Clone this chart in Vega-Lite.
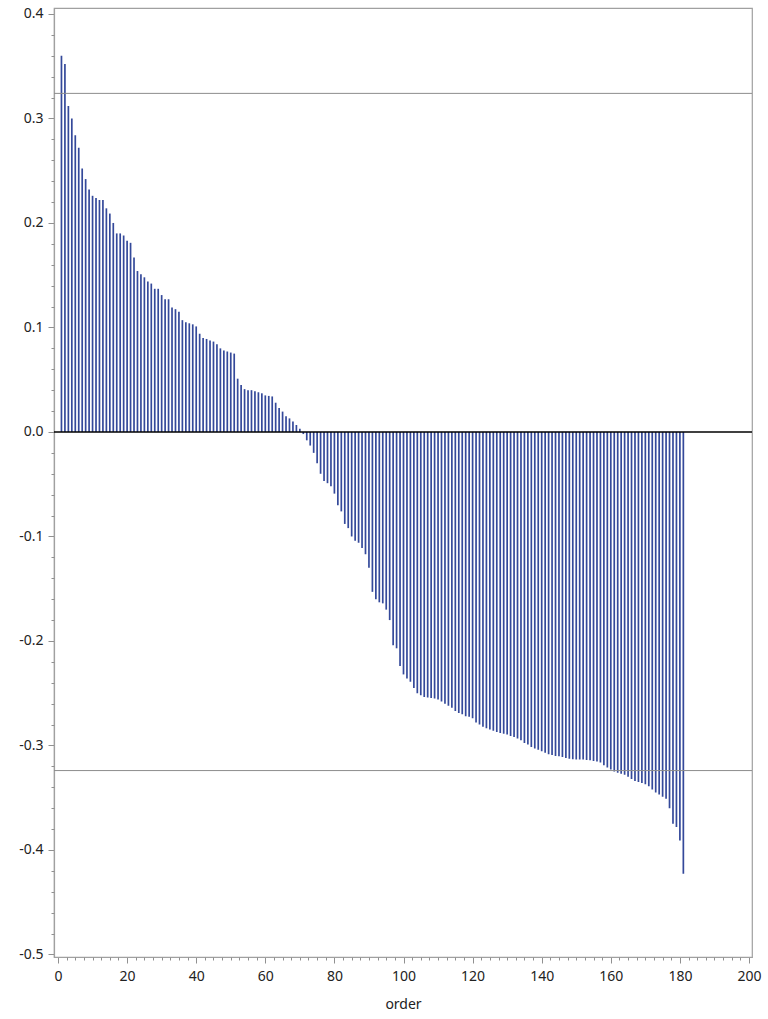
{
  "$schema": "https://vega.github.io/schema/vega-lite/v6.json",
  "autosize": {"type": "none"},
  "padding": {"left": 54, "top": 8, "right": 16, "bottom": 62},
  "width": 698,
  "height": 949,
  "background": "white",
  "config": {
    "view": {"stroke": "#a0a0a0", "strokeWidth": 1.2},
    "axis": {"labelFont": "Noto Sans", "titleFont": "Noto Sans", "labelColor": "#222222", "titleColor": "#222222", "domainColor": "#a0a0a0", "tickColor": "#909090", "grid": false}
  },
  "datasets": {
    "bars": [
      {"order":1,"value":0.360},{"order":2,"value":0.352},{"order":3,"value":0.312},{"order":4,"value":0.300},{"order":5,"value":0.284},
      {"order":6,"value":0.272},{"order":7,"value":0.252},{"order":8,"value":0.242},{"order":9,"value":0.232},{"order":10,"value":0.226},
      {"order":11,"value":0.224},{"order":12,"value":0.222},{"order":13,"value":0.222},{"order":14,"value":0.214},{"order":15,"value":0.209},
      {"order":16,"value":0.200},{"order":17,"value":0.190},{"order":18,"value":0.190},{"order":19,"value":0.188},{"order":20,"value":0.183},
      {"order":21,"value":0.181},{"order":22,"value":0.167},{"order":23,"value":0.154},{"order":24,"value":0.151},{"order":25,"value":0.148},
      {"order":26,"value":0.144},{"order":27,"value":0.142},{"order":28,"value":0.137},{"order":29,"value":0.137},{"order":30,"value":0.131},
      {"order":31,"value":0.127},{"order":32,"value":0.127},{"order":33,"value":0.119},{"order":34,"value":0.1175},{"order":35,"value":0.115},
      {"order":36,"value":0.107},{"order":37,"value":0.105},{"order":38,"value":0.104},{"order":39,"value":0.103},{"order":40,"value":0.101},
      {"order":41,"value":0.094},{"order":42,"value":0.090},{"order":43,"value":0.089},{"order":44,"value":0.0875},{"order":45,"value":0.0865},
      {"order":46,"value":0.084},{"order":47,"value":0.080},{"order":48,"value":0.078},{"order":49,"value":0.077},{"order":50,"value":0.076},
      {"order":51,"value":0.075},{"order":52,"value":0.051},{"order":53,"value":0.045},{"order":54,"value":0.041},{"order":55,"value":0.040},
      {"order":56,"value":0.040},{"order":57,"value":0.039},{"order":58,"value":0.038},{"order":59,"value":0.037},{"order":60,"value":0.035},
      {"order":61,"value":0.0345},{"order":62,"value":0.034},{"order":63,"value":0.028},{"order":64,"value":0.023},{"order":65,"value":0.0195},
      {"order":66,"value":0.015},{"order":67,"value":0.013},{"order":68,"value":0.010},{"order":69,"value":0.0067},{"order":70,"value":0.003},
      {"order":71,"value":-0.002},{"order":72,"value":-0.008},{"order":73,"value":-0.013},{"order":74,"value":-0.020},{"order":75,"value":-0.030},
      {"order":76,"value":-0.040},{"order":77,"value":-0.047},{"order":78,"value":-0.049},{"order":79,"value":-0.052},{"order":80,"value":-0.059},
      {"order":81,"value":-0.070},{"order":82,"value":-0.076},{"order":83,"value":-0.088},{"order":84,"value":-0.092},{"order":85,"value":-0.100},
      {"order":86,"value":-0.104},{"order":87,"value":-0.106},{"order":88,"value":-0.111},{"order":89,"value":-0.117},{"order":90,"value":-0.130},
      {"order":91,"value":-0.153},{"order":92,"value":-0.160},{"order":93,"value":-0.163},{"order":94,"value":-0.164},{"order":95,"value":-0.170},
      {"order":96,"value":-0.180},{"order":97,"value":-0.204},{"order":98,"value":-0.207},{"order":99,"value":-0.224},{"order":100,"value":-0.232},
      {"order":101,"value":-0.236},{"order":102,"value":-0.239},{"order":103,"value":-0.245},{"order":104,"value":-0.250},{"order":105,"value":-0.252},
      {"order":106,"value":-0.2535},{"order":107,"value":-0.254},{"order":108,"value":-0.2545},{"order":109,"value":-0.255},{"order":110,"value":-0.256},
      {"order":111,"value":-0.258},{"order":112,"value":-0.260},{"order":113,"value":-0.262},{"order":114,"value":-0.264},{"order":115,"value":-0.267},
      {"order":116,"value":-0.269},{"order":117,"value":-0.270},{"order":118,"value":-0.272},{"order":119,"value":-0.2725},{"order":120,"value":-0.274},
      {"order":121,"value":-0.278},{"order":122,"value":-0.280},{"order":123,"value":-0.282},{"order":124,"value":-0.2835},{"order":125,"value":-0.2848},
      {"order":126,"value":-0.286},{"order":127,"value":-0.287},{"order":128,"value":-0.288},{"order":129,"value":-0.2887},{"order":130,"value":-0.2896},
      {"order":131,"value":-0.291},{"order":132,"value":-0.292},{"order":133,"value":-0.2934},{"order":134,"value":-0.295},{"order":135,"value":-0.2976},
      {"order":136,"value":-0.299},{"order":137,"value":-0.3014},{"order":138,"value":-0.303},{"order":139,"value":-0.304},{"order":140,"value":-0.3055},
      {"order":141,"value":-0.307},{"order":142,"value":-0.3085},{"order":143,"value":-0.309},{"order":144,"value":-0.310},{"order":145,"value":-0.3103},
      {"order":146,"value":-0.311},{"order":147,"value":-0.312},{"order":148,"value":-0.3126},{"order":149,"value":-0.3132},{"order":150,"value":-0.3135},
      {"order":151,"value":-0.3135},{"order":152,"value":-0.3135},{"order":153,"value":-0.3139},{"order":154,"value":-0.3142},{"order":155,"value":-0.3148},
      {"order":156,"value":-0.3153},{"order":157,"value":-0.3162},{"order":158,"value":-0.319},{"order":159,"value":-0.321},{"order":160,"value":-0.323},
      {"order":161,"value":-0.325},{"order":162,"value":-0.326},{"order":163,"value":-0.327},{"order":164,"value":-0.328},{"order":165,"value":-0.330},
      {"order":166,"value":-0.332},{"order":167,"value":-0.334},{"order":168,"value":-0.335},{"order":169,"value":-0.336},{"order":170,"value":-0.337},
      {"order":171,"value":-0.339},{"order":172,"value":-0.342},{"order":173,"value":-0.345},{"order":174,"value":-0.347},{"order":175,"value":-0.349},
      {"order":176,"value":-0.351},{"order":177,"value":-0.360},{"order":178,"value":-0.375},{"order":179,"value":-0.378},{"order":180,"value":-0.391},
      {"order":181,"value":-0.4227}
    ],
    "limits": [{"limit": 0.324}, {"limit": -0.324}],
    "zero": [{"base": 0}]
  },
  "resolve": {"axis": {"x": "independent", "y": "independent"}},
  "layer": [
    {
      "data": {"name": "bars"},
      "mark": {"type": "rule", "color": "#34499A", "strokeWidth": 1.7},
      "encoding": {
        "x": {
          "field": "order", "type": "quantitative", "title": "order",
          "scale": {"domain": [-1.16, 200.87], "nice": false, "zero": false},
          "axis": {
            "orient": "bottom",
            "values": [0,20,40,60,80,100,120,140,160,180,200],
            "format": "d",
            "tickSize": 6,
            "labelFontSize": 14, "labelPadding": 6, "labelFlush": false,
            "titleFontSize": 14, "titleFontWeight": "normal", "titlePadding": 14,
            "domainWidth": 1.2, "tickWidth": 1
          }
        },
        "y": {
          "field": "value", "type": "quantitative",
          "scale": {"domain": [-0.5024, 0.4057], "nice": false, "zero": false},
          "axis": {
            "orient": "left",
            "values": [-0.5,-0.4,-0.3,-0.2,-0.1,0,0.1,0.2,0.3,0.4],
            "labelExpr": "replace(format(datum.value, '.1f'), '\u2212', '-')",
            "tickSize": 6,
            "labelFontSize": 14, "labelPadding": 5, "labelFlush": false,
            "title": null, "domainWidth": 1.2, "tickWidth": 1
          }
        },
        "y2": {"datum": 0}
      }
    },
    {
      "data": {"name": "bars"},
      "mark": {"type": "point", "opacity": 0},
      "encoding": {
        "x": {
          "field": "order", "type": "quantitative",
          "axis": {
            "orient": "bottom", "title": null, "labels": false, "domain": false, "tickSize": 3, "tickWidth": 1,
            "values": [2.5,5,7.5,10,12.5,15,17.5,22.5,25,27.5,30,32.5,35,37.5,42.5,45,47.5,50,52.5,55,57.5,62.5,65,67.5,70,72.5,75,77.5,82.5,85,87.5,90,92.5,95,97.5,102.5,105,107.5,110,112.5,115,117.5,122.5,125,127.5,130,132.5,135,137.5,142.5,145,147.5,150,152.5,155,157.5,162.5,165,167.5,170,172.5,175,177.5,182.5,185,187.5,190,192.5,195,197.5]
          }
        },
        "y": {
          "field": "value", "type": "quantitative",
          "axis": {
            "orient": "left", "title": null, "labels": false, "domain": false, "tickSize": 3, "tickWidth": 1,
            "values": [-0.48,-0.46,-0.44,-0.42,-0.38,-0.36,-0.34,-0.32,-0.28,-0.26,-0.24,-0.22,-0.18,-0.16,-0.14,-0.12,-0.08,-0.06,-0.04,-0.02,0.02,0.04,0.06,0.08,0.12,0.14,0.16,0.18,0.22,0.24,0.26,0.28,0.32,0.34,0.36,0.38]
          }
        }
      }
    },
    {
      "data": {"name": "limits"},
      "mark": {"type": "rule", "color": "#8c8c8c", "strokeWidth": 1},
      "encoding": {"y": {"field": "limit", "type": "quantitative", "axis": null}}
    },
    {
      "data": {"name": "zero"},
      "mark": {"type": "rule", "color": "#000000", "strokeWidth": 1.5},
      "encoding": {"y": {"field": "base", "type": "quantitative", "axis": null}}
    }
  ]
}
